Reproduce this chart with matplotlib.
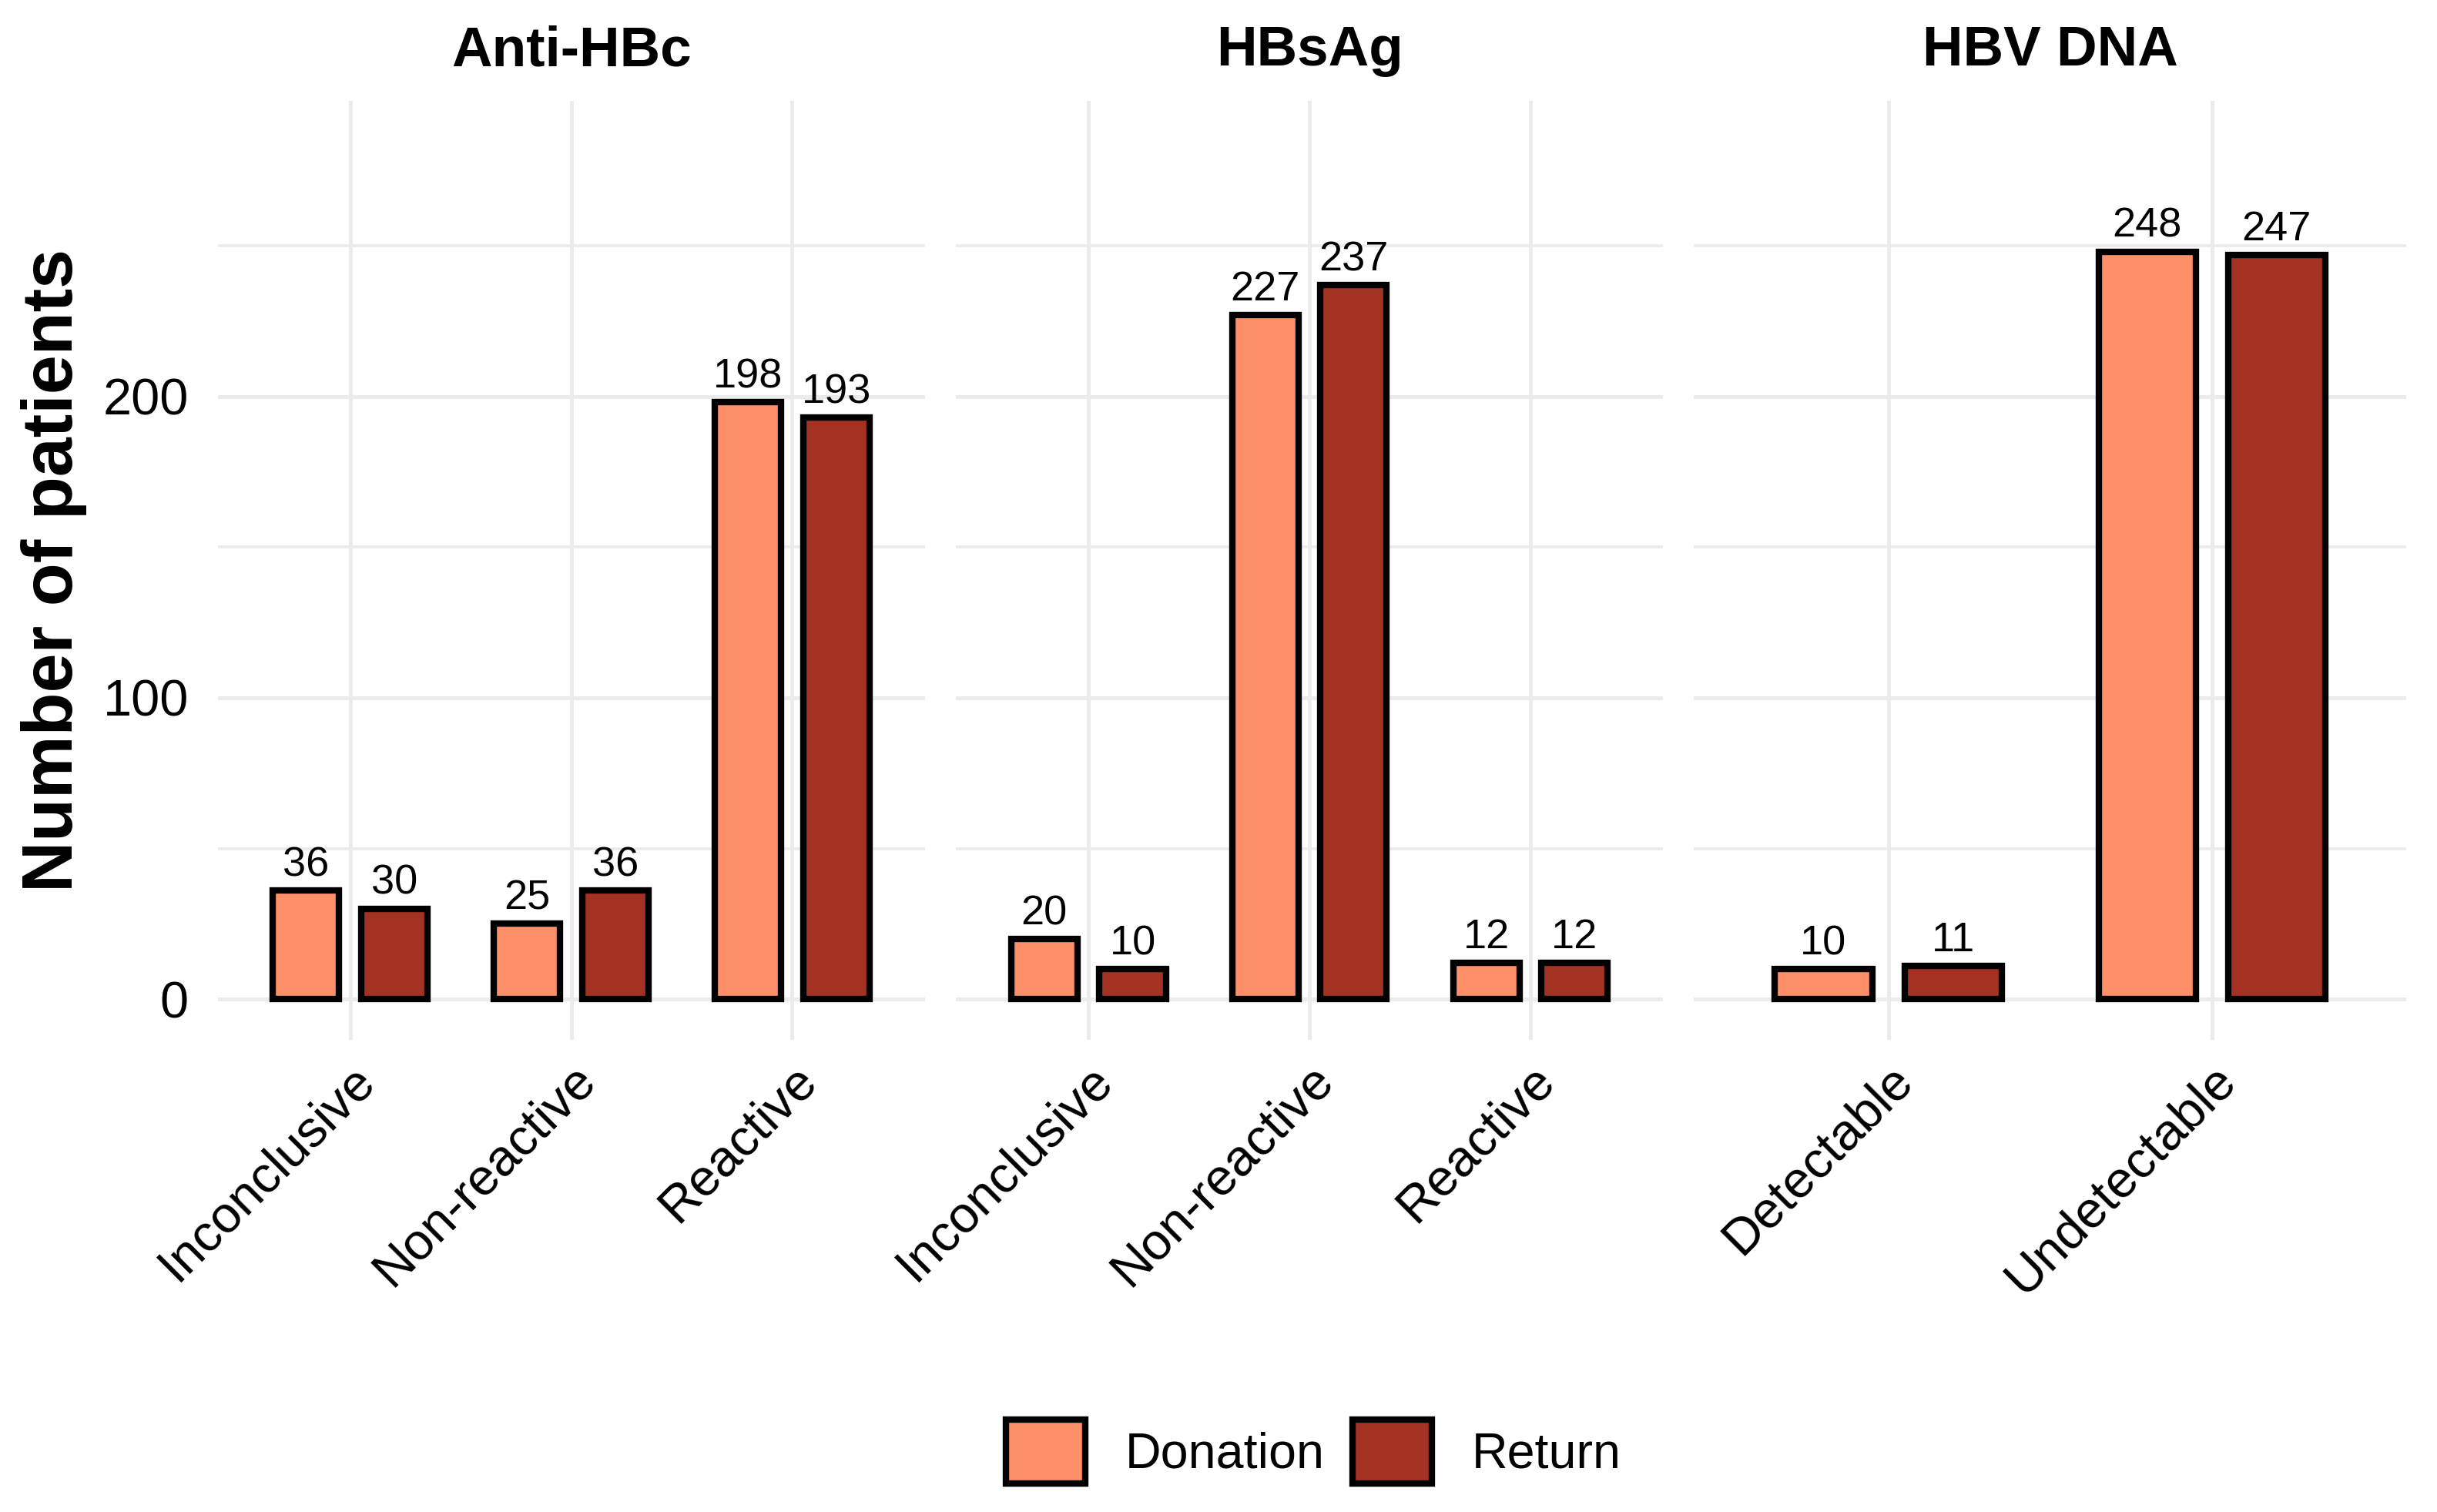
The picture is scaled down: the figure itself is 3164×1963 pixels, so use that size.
import numpy as np
from matplotlib import pyplot as plt
from matplotlib.patches import Patch

plt.rcParams['font.family'] = ['Liberation Sans', 'DejaVu Sans']

# data
panel_titles = ["Anti-HBc", "HBsAg", "HBV DNA"]
antihbc_cats = ["Inconclusive", "Non-reactive", "Reactive"]
antihbc_donation = [36, 25, 198]
antihbc_return = [30, 36, 193]
hbsag_cats = ["Inconclusive", "Non-reactive", "Reactive"]
hbsag_donation = [20, 227, 12]
hbsag_return = [10, 237, 12]
hbvdna_cats = ["Detectable", "Undetectable"]
hbvdna_donation = [10, 248]
hbvdna_return = [11, 247]

series_names = ["Donation", "Return"]
colors = ["#FD9068", "#A33222"]

panels = [
    (antihbc_cats, antihbc_donation, antihbc_return),
    (hbsag_cats, hbsag_donation, hbsag_return),
    (hbvdna_cats, hbvdna_donation, hbvdna_return),
]

fig = plt.figure(figsize=(3164 / 300, 1963 / 300), dpi=300)

W, H = 1568.0, 972.8
lefts = [140, 615, 1090]
rights = [595, 1070, 1548]
top, bottom = 65, 669
grid_col = "#EBEBEB"

axes = []
for i, (cats, don, ret) in enumerate(panels):
    ax = fig.add_axes([lefts[i] / W, 1 - bottom / H, (rights[i] - lefts[i]) / W, (bottom - top) / H])
    axes.append(ax)
    x = np.arange(1, len(cats) + 1)
    for vals, off, col in [(don, -0.2, colors[0]), (ret, 0.2, colors[1])]:
        bars = ax.bar(x + off, vals, width=0.3, color=col, edgecolor="black", linewidth=2.0, zorder=3)
        for b, v in zip(bars, vals):
            ax.text(b.get_x() + b.get_width() / 2, v + 2, str(v), ha="center", va="bottom",
                    fontsize=13, zorder=4)
    ax.set_xlim(0.4, len(cats) + 0.6)
    ax.set_ylim(-13.5, 298)
    ax.set_xticks(x)
    ax.set_xticklabels(cats, rotation=45, ha="right", va="top", rotation_mode="anchor", fontsize=16)
    ax.set_yticks([0, 100, 200])
    ax.set_yticks([50, 150, 250], minor=True)
    ax.grid(True, which="major", color=grid_col, linewidth=1.2, zorder=0)
    ax.grid(True, which="minor", axis="y", color=grid_col, linewidth=0.9, zorder=0)
    ax.set_axisbelow(True)
    for s in ax.spines.values():
        s.set_visible(False)
    ax.tick_params(which="both", length=0, pad=5)
    ax.tick_params(axis="y", labelsize=16, pad=9)
    if i > 0:
        ax.set_yticklabels([])
    ax.set_title(panel_titles[i], fontsize=17.5, fontweight="bold", pad=11)

axes[0].set_ylabel("Number of patients", fontsize=22, fontweight="bold", labelpad=5)

handles = [Patch(facecolor=c, edgecolor="black", linewidth=2.0, label=n) for c, n in zip(colors, series_names)]
fig.legend(handles=handles, loc="center", bbox_to_anchor=(0.539, 1 - 934 / H), ncol=2, frameon=False,
           fontsize=15.5, handlelength=1.6, handleheight=1.6, columnspacing=0.55, handletextpad=0.8)

fig.savefig("out.png", dpi=300, facecolor="white")
